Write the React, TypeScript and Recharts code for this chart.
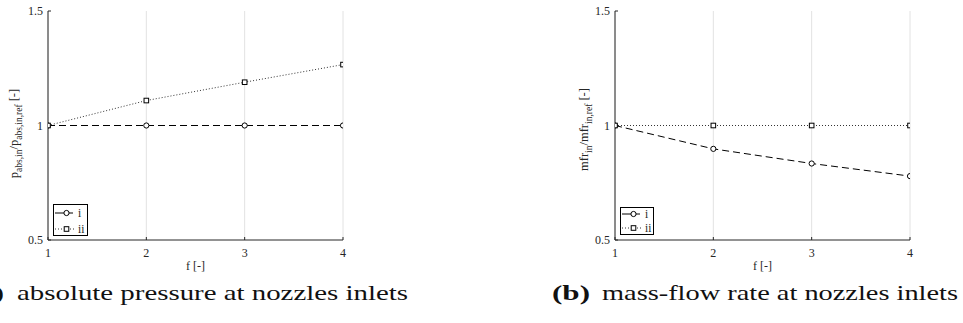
import React from 'react';
import { LineChart, Line, XAxis, YAxis, CartesianGrid, Legend } from 'recharts';

// Nozzle-inlet ratios over the scaling factor f
const fValues = [1, 2, 3, 4];
const pressureI = [1, 1, 1, 1];
const pressureII = [1, 1.109, 1.189, 1.266];
const massFlowI = [1, 0.898, 0.834, 0.779];
const massFlowII = [1, 1, 1, 1];
const xTicks = [1, 2, 3, 4];
const yTicks = [0.5, 1, 1.5];
const seriesNames = ['i', 'ii'];

const pressureData = fValues.map((f, k) => ({ f, i: pressureI[k], ii: pressureII[k] }));
const massFlowData = fValues.map((f, k) => ({ f, i: massFlowI[k], ii: massFlowII[k] }));

const SERIF = 'Liberation Serif, DejaVu Serif, serif';
const INK = '#262626';
const H = 323;

type Part = { t: string; sub?: boolean };

const pressureTitle: Part[] = [
  { t: 'p' },
  { t: 'abs,in', sub: true },
  { t: '/p' },
  { t: 'abs,in,ref', sub: true },
  { t: '\u00a0[-]' },
];
const massFlowTitle: Part[] = [
  { t: 'mfr' },
  { t: 'in', sub: true },
  { t: '/mfr' },
  { t: 'in,ref', sub: true },
  { t: '\u00a0[-]' },
];

function AxisTitle(props: any) {
  const { viewBox, parts, shift, drop } = props;
  const cx = viewBox.x + shift;
  const cy = viewBox.y + viewBox.height / 2 + drop;
  let cur = 0;
  return (
    <text
      transform={`translate(${cx},${cy}) rotate(-90)`}
      textAnchor="middle"
      fontFamily={SERIF}
      fontSize={12.5}
      fill={INK}
    >
      {parts.map((p: Part, k: number) => {
        const target = p.sub ? 3.5 : 0;
        const dy = target - cur;
        cur = target;
        return (
          <tspan key={k} dy={dy} fontSize={p.sub ? 9.5 : 12.5}>
            {p.t}
          </tspan>
        );
      })}
    </text>
  );
}

function CircleDot(props: any) {
  const { cx, cy, index } = props;
  if (cx == null || cy == null) return <g key={`c${index}`} />;
  return <circle key={`c${index}`} cx={cx} cy={cy} r={2.6} fill="#fff" stroke="#000" strokeWidth={1} />;
}

function SquareDot(props: any) {
  const { cx, cy, index } = props;
  if (cx == null || cy == null) return <g key={`s${index}`} />;
  return <rect key={`s${index}`} x={cx - 2.3} y={cy - 2.3} width={4.6} height={4.6} fill="#fff" stroke="#000" strokeWidth={1} />;
}

function LegendBox({ w, h, rowY }: { w: number; h: number; rowY: number[] }) {
  return (
    <svg width={w} height={h} style={{ display: 'block' }}>
      <rect x={0.5} y={0.5} width={w - 1} height={h - 1} fill="#fff" stroke="#000" strokeWidth={1} />
      <line x1={2} x2={11} y1={rowY[0]} y2={rowY[0]} stroke="#000" strokeWidth={1} />
      <line x1={16} x2={20} y1={rowY[0]} y2={rowY[0]} stroke="#000" strokeWidth={1} />
      <circle cx={13.5} cy={rowY[0]} r={2.6} fill="#fff" stroke="#000" strokeWidth={1} />
      <line x1={2} x2={22} y1={rowY[1]} y2={rowY[1]} stroke="#333" strokeWidth={1} strokeDasharray="1 2" />
      <rect x={11.2} y={rowY[1] - 2.3} width={4.6} height={4.6} fill="#fff" stroke="#000" strokeWidth={1} />
      {seriesNames.map((n, k) => (
        <text key={n} x={25} y={rowY[k] + 3.5} fontFamily={SERIF} fontSize={11.5} fill={INK}>
          {n}
        </text>
      ))}
    </svg>
  );
}

type PanelProps = {
  data: any[];
  left: number;
  width: number;
  margin: { top: number; right: number; bottom: number; left: number };
  title: Part[];
  titleShift: number;
  titleDrop: number;
  legendPos: { left: number; top: number; w: number; h: number; rowY: number[] };
};

function Panel({ data, left, width, margin, title, titleShift, titleDrop, legendPos }: PanelProps) {
  const tickStyle = { fill: INK, fontFamily: SERIF, fontSize: 12 };
  return (
    <div style={{ position: 'absolute', left, top: 0 }}>
      <LineChart width={width} height={H} data={data} margin={margin}>
        <CartesianGrid horizontal={false} stroke="#e2e2e2" strokeWidth={1} />
        <XAxis
          dataKey="f"
          type="number"
          domain={[1, 4]}
          ticks={xTicks}
          allowDataOverflow
          height={32}
          stroke={INK}
          tickSize={-3}
          tickMargin={11}
          tick={tickStyle}
          label={{ value: 'f [-]', position: 'insideBottom', offset: 2, fill: INK, fontFamily: SERIF, fontSize: 12 }}
        />
        <XAxis
          xAxisId="top"
          orientation="top"
          dataKey="f"
          type="number"
          domain={[1, 4]}
          ticks={xTicks}
          height={0}
          stroke={INK}
          tickSize={-3}
          tick={false}
        />
        <YAxis
          type="number"
          domain={[0.5, 1.5]}
          ticks={yTicks}
          allowDataOverflow
          width={30}
          stroke={INK}
          tickSize={-3}
          tickMargin={8}
          tick={tickStyle}
          label={{ content: (p: any) => <AxisTitle {...p} parts={title} shift={titleShift} drop={titleDrop} /> }}
        />
        <YAxis
          yAxisId="right"
          orientation="right"
          type="number"
          domain={[0.5, 1.5]}
          ticks={yTicks}
          width={0}
          stroke={INK}
          tickSize={-3}
          tick={false}
        />
        <Legend
          layout="vertical"
          align="center"
          verticalAlign="middle"
          wrapperStyle={{ left: legendPos.left, top: legendPos.top, width: legendPos.w, height: legendPos.h }}
          content={() => <LegendBox w={legendPos.w} h={legendPos.h} rowY={legendPos.rowY} />}
        />
        <Line
          dataKey="i"
          name={seriesNames[0]}
          type="linear"
          stroke="#000"
          strokeWidth={1}
          strokeDasharray="7 4"
          dot={CircleDot}
          activeDot={false}
          isAnimationActive={false}
        />
        <Line
          dataKey="ii"
          name={seriesNames[1]}
          type="linear"
          stroke="#333"
          strokeWidth={1}
          strokeDasharray="1 2"
          dot={SquareDot}
          activeDot={false}
          isAnimationActive={false}
        />
      </LineChart>
    </div>
  );
}

export default function App() {
  return (
    <div
      style={{
        position: 'absolute',
        left: 0,
        top: 0,
        width: 963,
        height: H,
        background: '#fff',
        overflow: 'hidden',
      }}
    >
      <Panel
        data={pressureData}
        left={0}
        width={480}
        margin={{ top: 11, right: 137, bottom: 51, left: 18 }}
        title={pressureTitle}
        titleShift={0}
        titleDrop={8}
        legendPos={{ left: 53, top: 204, w: 35, h: 32, rowY: [9, 25] }}
      />
      <Panel
        data={massFlowData}
        left={480}
        width={483}
        margin={{ top: 11, right: 53, bottom: 51, left: 105 }}
        title={massFlowTitle}
        titleShift={3}
        titleDrop={4}
        legendPos={{ left: 140, top: 207, w: 34, h: 28, rowY: [7, 21] }}
      />
      <svg width={963} height={H} style={{ position: 'absolute', left: 0, top: 0, pointerEvents: 'none' }}>
        <g fontFamily={SERIF} fontSize={21} fill="#111">
          <text x={-34} y={300} fontWeight="bold" textLength={38} lengthAdjust="spacingAndGlyphs">(a)</text>
          <text x={17} y={300} textLength={391} lengthAdjust="spacingAndGlyphs">absolute pressure at nozzles inlets</text>
          <text x={552} y={300} fontWeight="bold" textLength={38} lengthAdjust="spacingAndGlyphs">(b)</text>
          <text x={602} y={300} textLength={356} lengthAdjust="spacingAndGlyphs">mass-flow rate at nozzles inlets</text>
        </g>
      </svg>
    </div>
  );
}
